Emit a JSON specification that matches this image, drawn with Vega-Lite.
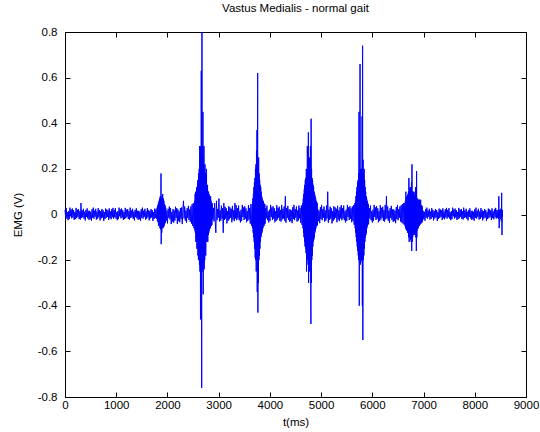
{
  "$schema": "https://vega.github.io/schema/vega-lite/v6.json",
  "width": 461,
  "height": 365,
  "autosize": {"type": "none"},
  "padding": {"left": 65, "top": 32, "right": 14, "bottom": 35},
  "background": "white",
  "title": {"text": "Vastus Medialis - normal gait", "font": "Liberation Sans", "fontSize": 11.5, "fontWeight": "normal", "color": "black", "offset": 12, "anchor": "middle"},
  "config": {
    "view": {"stroke": "black", "strokeWidth": 1},
    "axis": {"grid": false, "domainColor": "black", "tickColor": "black", "labelColor": "black", "titleColor": "black", "labelFont": "Liberation Sans", "titleFont": "Liberation Sans", "titleFontWeight": "normal", "labelFontSize": 11.5, "titleFontSize": 11.5, "tickSize": -5, "domainWidth": 1, "tickWidth": 1, "labelFlush": false}
  },
  "data": {"values": [
{"t":0,"v":0.02},{"t":12,"v":-0.012},{"t":24,"v":0.028},{"t":36,"v":-0.018},{"t":48,"v":0.01},{"t":60,"v":-0.025},{"t":72,"v":0.015},{"t":84,"v":-0.02},{"t":96,"v":0.03},{"t":108,"v":-0.008},
{"t":120,"v":0.022},{"t":132,"v":-0.017},{"t":144,"v":0.026},{"t":156,"v":-0.013},{"t":168,"v":0.019},{"t":180,"v":-0.024},{"t":192,"v":0.011},{"t":204,"v":-0.02},{"t":216,"v":0.029},{"t":228,"v":-0.016},
{"t":240,"v":0.021},{"t":252,"v":-0.01},{"t":264,"v":0.024},{"t":276,"v":-0.02},{"t":288,"v":0.014},{"t":300,"v":-0.022},{"t":312,"v":0.05},{"t":324,"v":-0.015},{"t":336,"v":0.018},{"t":348,"v":-0.012},
{"t":360,"v":0.025},{"t":372,"v":-0.019},{"t":384,"v":0.012},{"t":396,"v":-0.026},{"t":408,"v":0.02},{"t":420,"v":-0.011},{"t":432,"v":0.027},{"t":444,"v":-0.017},{"t":456,"v":0.016},{"t":468,"v":-0.023},
{"t":480,"v":0.016},{"t":492,"v":-0.021},{"t":504,"v":0.012},{"t":516,"v":-0.027},{"t":528,"v":0.023},{"t":540,"v":-0.014},{"t":552,"v":0.03},{"t":564,"v":-0.018},{"t":576,"v":0.017},{"t":588,"v":-0.01},
{"t":600,"v":0.025},{"t":612,"v":-0.022},{"t":624,"v":0.013},{"t":636,"v":-0.019},{"t":648,"v":0.028},{"t":660,"v":-0.012},{"t":672,"v":0.02},{"t":684,"v":-0.026},{"t":696,"v":0.015},{"t":708,"v":-0.017},
{"t":720,"v":0.024},{"t":732,"v":-0.013},{"t":744,"v":0.019},{"t":756,"v":-0.028},{"t":768,"v":0.011},{"t":780,"v":-0.02},{"t":792,"v":0.026},{"t":804,"v":-0.015},{"t":816,"v":0.022},{"t":828,"v":-0.01},
{"t":840,"v":0.018},{"t":852,"v":-0.024},{"t":864,"v":0.027},{"t":876,"v":-0.016},{"t":888,"v":0.013},{"t":900,"v":-0.021},{"t":912,"v":0.023},{"t":924,"v":-0.012},{"t":936,"v":0.029},{"t":948,"v":-0.018},
{"t":960,"v":0.02},{"t":972,"v":-0.012},{"t":984,"v":0.028},{"t":996,"v":-0.018},{"t":1008,"v":0.01},{"t":1020,"v":-0.025},{"t":1032,"v":0.015},{"t":1044,"v":-0.02},{"t":1056,"v":0.03},{"t":1068,"v":-0.008},
{"t":1080,"v":0.022},{"t":1092,"v":-0.017},{"t":1104,"v":0.026},{"t":1116,"v":-0.013},{"t":1128,"v":0.019},{"t":1140,"v":-0.024},{"t":1152,"v":0.011},{"t":1164,"v":-0.02},{"t":1176,"v":0.029},{"t":1188,"v":-0.016},
{"t":1200,"v":0.021},{"t":1212,"v":-0.01},{"t":1224,"v":0.024},{"t":1236,"v":-0.02},{"t":1248,"v":0.014},{"t":1260,"v":-0.022},{"t":1272,"v":0.03},{"t":1284,"v":-0.015},{"t":1296,"v":0.018},{"t":1308,"v":-0.012},
{"t":1320,"v":0.025},{"t":1332,"v":-0.019},{"t":1344,"v":0.012},{"t":1356,"v":-0.026},{"t":1368,"v":0.02},{"t":1380,"v":-0.011},{"t":1392,"v":0.027},{"t":1404,"v":-0.017},{"t":1416,"v":0.016},{"t":1428,"v":-0.023},
{"t":1440,"v":0.016},{"t":1452,"v":-0.021},{"t":1464,"v":0.012},{"t":1476,"v":-0.027},{"t":1488,"v":0.023},{"t":1500,"v":-0.014},{"t":1512,"v":0.03},{"t":1524,"v":-0.018},{"t":1536,"v":0.017},{"t":1548,"v":-0.01},
{"t":1560,"v":0.025},{"t":1572,"v":-0.022},{"t":1584,"v":0.013},{"t":1596,"v":-0.019},{"t":1608,"v":0.028},{"t":1620,"v":-0.012},{"t":1632,"v":0.02},{"t":1644,"v":-0.026},{"t":1656,"v":0.015},{"t":1668,"v":-0.017},
{"t":1680,"v":0.024},{"t":1692,"v":-0.013},{"t":1704,"v":0.019},{"t":1716,"v":-0.028},{"t":1728,"v":0.011},{"t":1740,"v":-0.02},{"t":1752,"v":0.026},{"t":1764,"v":-0.015},{"t":1776,"v":0.022},{"t":1790,"v":-0.02},{"t":1798,"v":0.03},
{"t":1805,"v":-0.03},{"t":1811,"v":0.04},{"t":1817,"v":-0.035},{"t":1823,"v":0.05},{"t":1829,"v":-0.05},{"t":1835,"v":0.06},{"t":1841,"v":-0.045},{"t":1847,"v":0.07},{"t":1853,"v":-0.06},{"t":1859,"v":0.08},
{"t":1865,"v":-0.065},{"t":1871,"v":0.06},{"t":1875,"v":0.18},{"t":1878,"v":-0.13},{"t":1883,"v":0.07},{"t":1889,"v":-0.08},{"t":1895,"v":0.08},{"t":1901,"v":-0.06},{"t":1907,"v":0.09},{"t":1913,"v":-0.06},
{"t":1919,"v":0.07},{"t":1925,"v":-0.055},{"t":1931,"v":0.06},{"t":1937,"v":-0.05},{"t":1943,"v":0.045},{"t":1949,"v":-0.04},{"t":1955,"v":0.04},{"t":1961,"v":-0.035},{"t":1967,"v":0.03},
{"t":1977,"v":-0.028},{"t":1989,"v":0.017},{"t":2001,"v":-0.039},{"t":2013,"v":0.025},{"t":2025,"v":-0.014},{"t":2037,"v":0.035},{"t":2049,"v":-0.021},{"t":2061,"v":0.028},{"t":2073,"v":-0.042},{"t":2085,"v":0.011},
{"t":2097,"v":-0.031},{"t":2109,"v":0.024},{"t":2121,"v":-0.036},{"t":2133,"v":0.018},{"t":2145,"v":-0.027},{"t":2157,"v":0.034},{"t":2169,"v":-0.015},{"t":2181,"v":0.028},{"t":2193,"v":-0.041},{"t":2205,"v":0.022},
{"t":2217,"v":-0.029},{"t":2229,"v":0.014},{"t":2241,"v":-0.034},{"t":2253,"v":0.028},{"t":2265,"v":-0.02},{"t":2277,"v":0.031},{"t":2289,"v":-0.042},{"t":2301,"v":0.021},{"t":2313,"v":0.06},{"t":2325,"v":-0.017},
{"t":2337,"v":0.035},{"t":2349,"v":-0.027},{"t":2361,"v":0.017},{"t":2373,"v":-0.036},{"t":2385,"v":0.028},{"t":2397,"v":-0.015},{"t":2409,"v":0.038},{"t":2421,"v":-0.024},{"t":2433,"v":0.022},{"t":2445,"v":-0.032},
{"t":2457,"v":0.035},{"t":2469,"v":-0.04},{"t":2481,"v":0.045},{"t":2493,"v":-0.05},{"t":2505,"v":0.05},{"t":2517,"v":-0.06},
{"t":2530,"v":0.06},{"t":2535,"v":-0.07},{"t":2540,"v":0.09},{"t":2545,"v":-0.08},{"t":2550,"v":0.1},{"t":2555,"v":-0.12},{"t":2560,"v":0.08},{"t":2565,"v":-0.1},{"t":2570,"v":0.12},{"t":2575,"v":-0.15},
{"t":2580,"v":0.1},{"t":2585,"v":-0.12},{"t":2590,"v":0.15},{"t":2595,"v":-0.18},{"t":2600,"v":0.12},{"t":2605,"v":-0.2},{"t":2610,"v":0.18},{"t":2615,"v":-0.15},{"t":2620,"v":0.2},{"t":2625,"v":-0.22},
{"t":2630,"v":0.3},{"t":2635,"v":-0.25},{"t":2640,"v":0.25},{"t":2645,"v":-0.46},{"t":2650,"v":0.3},{"t":2655,"v":-0.2},{"t":2660,"v":0.63},{"t":2665,"v":-0.3},{"t":2669,"v":-0.76},{"t":2674,"v":0.8},
{"t":2678,"v":-0.2},{"t":2683,"v":0.3},{"t":2688,"v":-0.25},{"t":2693,"v":0.45},{"t":2698,"v":-0.35},{"t":2703,"v":0.25},{"t":2708,"v":-0.21},{"t":2713,"v":0.3},{"t":2718,"v":-0.24},{"t":2723,"v":0.2},
{"t":2728,"v":-0.2},{"t":2733,"v":0.22},{"t":2738,"v":-0.15},{"t":2743,"v":0.18},{"t":2748,"v":-0.18},{"t":2753,"v":0.15},{"t":2758,"v":-0.12},{"t":2763,"v":0.2},{"t":2768,"v":-0.12},{"t":2773,"v":0.12},
{"t":2778,"v":-0.1},{"t":2783,"v":0.13},{"t":2788,"v":-0.12},{"t":2793,"v":0.1},{"t":2798,"v":-0.09},{"t":2803,"v":0.1},{"t":2808,"v":-0.08},{"t":2813,"v":0.09},{"t":2818,"v":-0.07},{"t":2823,"v":0.08},
{"t":2828,"v":-0.06},{"t":2833,"v":0.07},{"t":2838,"v":-0.06},{"t":2843,"v":0.08},{"t":2848,"v":-0.05},{"t":2853,"v":0.06},{"t":2858,"v":-0.05},{"t":2863,"v":0.05},{"t":2868,"v":-0.045},{"t":2873,"v":0.05},
{"t":2885,"v":-0.022},{"t":2897,"v":0.029},{"t":2909,"v":-0.03},{"t":2921,"v":0.05},{"t":2933,"v":-0.032},{"t":2945,"v":-0.08},{"t":2957,"v":0.06},{"t":2969,"v":-0.025},{"t":2981,"v":0.024},{"t":2993,"v":-0.014},
{"t":3005,"v":0.07},{"t":3017,"v":-0.031},{"t":3029,"v":0.018},{"t":3041,"v":-0.027},{"t":3053,"v":0.039},{"t":3065,"v":-0.017},{"t":3077,"v":0.028},{"t":3089,"v":-0.08},{"t":3101,"v":0.05},{"t":3113,"v":-0.024},
{"t":3125,"v":0.034},{"t":3137,"v":-0.018},{"t":3149,"v":0.027},{"t":3161,"v":-0.039},{"t":3173,"v":0.015},{"t":3185,"v":-0.028},{"t":3197,"v":0.036},{"t":3209,"v":-0.021},{"t":3221,"v":0.031},{"t":3233,"v":-0.014},
{"t":3245,"v":0.025},{"t":3257,"v":-0.034},{"t":3269,"v":0.038},{"t":3281,"v":-0.022},{"t":3293,"v":0.018},{"t":3305,"v":-0.029},{"t":3317,"v":0.05},{"t":3329,"v":-0.017},{"t":3341,"v":0.041},{"t":3353,"v":-0.025},
{"t":3365,"v":0.028},{"t":3377,"v":-0.017},{"t":3389,"v":0.039},{"t":3401,"v":-0.025},{"t":3413,"v":0.014},{"t":3425,"v":-0.035},{"t":3437,"v":0.021},{"t":3449,"v":-0.028},{"t":3461,"v":0.042},{"t":3473,"v":-0.011},
{"t":3485,"v":0.031},{"t":3497,"v":-0.024},{"t":3509,"v":0.036},{"t":3521,"v":-0.018},{"t":3533,"v":0.027},{"t":3545,"v":-0.034},{"t":3557,"v":0.015},{"t":3569,"v":-0.028},{"t":3581,"v":0.041},{"t":3593,"v":-0.022},
{"t":3605,"v":0.029},{"t":3617,"v":-0.04},{"t":3629,"v":0.045},{"t":3641,"v":-0.05},
{"t":3658,"v":0.05},{"t":3663,"v":-0.06},{"t":3668,"v":0.07},{"t":3673,"v":-0.08},{"t":3678,"v":0.09},{"t":3683,"v":-0.1},{"t":3688,"v":0.12},{"t":3693,"v":-0.12},{"t":3698,"v":0.14},{"t":3703,"v":-0.15},
{"t":3708,"v":0.16},{"t":3713,"v":-0.19},{"t":3718,"v":0.2},{"t":3723,"v":-0.2},{"t":3728,"v":0.22},{"t":3733,"v":-0.25},{"t":3738,"v":0.28},{"t":3743,"v":-0.2},{"t":3748,"v":0.37},{"t":3753,"v":-0.34},
{"t":3758,"v":0.26},{"t":3762,"v":0.62},{"t":3766,"v":-0.43},{"t":3771,"v":0.2},{"t":3776,"v":-0.3},{"t":3781,"v":0.25},{"t":3786,"v":-0.2},{"t":3791,"v":0.18},{"t":3796,"v":-0.18},{"t":3801,"v":0.15},
{"t":3806,"v":-0.15},{"t":3811,"v":0.13},{"t":3816,"v":-0.12},{"t":3821,"v":0.12},{"t":3826,"v":-0.1},{"t":3831,"v":0.1},{"t":3836,"v":-0.09},{"t":3841,"v":0.08},{"t":3846,"v":-0.08},{"t":3851,"v":0.07},
{"t":3856,"v":-0.07},{"t":3861,"v":0.06},{"t":3866,"v":-0.06},{"t":3871,"v":0.06},{"t":3876,"v":-0.05},{"t":3881,"v":0.05},{"t":3886,"v":-0.05},{"t":3891,"v":0.045},{"t":3896,"v":-0.04},{"t":3901,"v":0.045},{"t":3906,"v":-0.04},
{"t":3918,"v":0.028},{"t":3930,"v":-0.017},{"t":3942,"v":0.039},{"t":3954,"v":-0.025},{"t":3966,"v":0.014},{"t":3978,"v":-0.035},{"t":3990,"v":0.021},{"t":4002,"v":-0.028},{"t":4014,"v":0.042},{"t":4026,"v":-0.011},
{"t":4038,"v":0.031},{"t":4050,"v":-0.024},{"t":4062,"v":0.036},{"t":4074,"v":-0.018},{"t":4086,"v":0.027},{"t":4098,"v":-0.034},{"t":4110,"v":0.015},{"t":4122,"v":-0.028},{"t":4134,"v":0.041},{"t":4146,"v":-0.022},
{"t":4158,"v":0.029},{"t":4170,"v":-0.014},{"t":4182,"v":0.034},{"t":4194,"v":-0.028},{"t":4206,"v":0.02},{"t":4218,"v":-0.031},{"t":4230,"v":0.042},{"t":4242,"v":-0.021},{"t":4254,"v":0.025},{"t":4266,"v":-0.017},
{"t":4278,"v":0.035},{"t":4290,"v":-0.027},{"t":4302,"v":0.08},{"t":4314,"v":-0.036},{"t":4326,"v":0.028},{"t":4338,"v":-0.015},{"t":4350,"v":0.038},{"t":4362,"v":-0.024},{"t":4374,"v":0.022},{"t":4386,"v":-0.032},
{"t":4398,"v":0.022},{"t":4410,"v":-0.029},{"t":4422,"v":0.017},{"t":4434,"v":-0.038},{"t":4446,"v":0.032},{"t":4458,"v":-0.02},{"t":4470,"v":0.042},{"t":4482,"v":-0.025},{"t":4494,"v":0.024},{"t":4506,"v":-0.014},
{"t":4518,"v":0.035},{"t":4530,"v":-0.031},{"t":4542,"v":0.018},{"t":4554,"v":-0.027},{"t":4566,"v":0.039},{"t":4578,"v":-0.017},{"t":4590,"v":0.028},{"t":4602,"v":-0.036},{"t":4614,"v":0.04},{"t":4626,"v":-0.045},
{"t":4641,"v":0.05},{"t":4646,"v":-0.06},{"t":4651,"v":0.07},{"t":4656,"v":-0.08},{"t":4661,"v":0.09},{"t":4666,"v":-0.1},{"t":4671,"v":0.11},{"t":4676,"v":-0.12},{"t":4681,"v":0.13},{"t":4686,"v":-0.14},
{"t":4691,"v":0.15},{"t":4696,"v":-0.15},{"t":4701,"v":0.16},{"t":4706,"v":-0.17},{"t":4711,"v":0.2},{"t":4716,"v":-0.25},{"t":4721,"v":0.18},{"t":4726,"v":-0.2},{"t":4731,"v":0.3},{"t":4736,"v":-0.18},
{"t":4741,"v":0.2},{"t":4746,"v":-0.22},{"t":4751,"v":0.36},{"t":4756,"v":-0.3},{"t":4761,"v":0.22},{"t":4766,"v":-0.2},{"t":4771,"v":0.25},{"t":4776,"v":-0.25},{"t":4781,"v":0.2},{"t":4786,"v":-0.18},
{"t":4791,"v":0.3},{"t":4796,"v":-0.2},{"t":4801,"v":-0.48},{"t":4805,"v":0.42},{"t":4809,"v":-0.3},{"t":4814,"v":0.2},{"t":4819,"v":-0.2},{"t":4824,"v":0.16},{"t":4829,"v":-0.18},{"t":4834,"v":0.15},
{"t":4839,"v":-0.14},{"t":4844,"v":0.13},{"t":4849,"v":-0.12},{"t":4854,"v":0.12},{"t":4859,"v":-0.11},{"t":4864,"v":0.1},{"t":4869,"v":-0.1},{"t":4874,"v":0.09},{"t":4879,"v":-0.08},{"t":4884,"v":0.08},
{"t":4889,"v":-0.07},{"t":4894,"v":0.07},{"t":4899,"v":-0.06},{"t":4904,"v":0.06},{"t":4909,"v":-0.05},{"t":4914,"v":0.055},{"t":4919,"v":-0.05},{"t":4924,"v":0.05},{"t":4929,"v":-0.045},
{"t":4937,"v":0.022},{"t":4949,"v":-0.029},{"t":4961,"v":0.017},{"t":4973,"v":-0.038},{"t":4985,"v":0.032},{"t":4997,"v":-0.02},{"t":5009,"v":0.042},{"t":5021,"v":-0.025},{"t":5033,"v":0.024},{"t":5045,"v":-0.014},
{"t":5057,"v":0.035},{"t":5069,"v":-0.031},{"t":5081,"v":0.018},{"t":5093,"v":-0.027},{"t":5105,"v":0.039},{"t":5117,"v":-0.017},{"t":5129,"v":0.1},{"t":5141,"v":-0.036},{"t":5153,"v":0.021},{"t":5165,"v":-0.024},
{"t":5177,"v":0.034},{"t":5189,"v":-0.018},{"t":5201,"v":0.027},{"t":5213,"v":-0.039},{"t":5225,"v":0.015},{"t":5237,"v":-0.028},{"t":5249,"v":0.036},{"t":5261,"v":-0.021},{"t":5273,"v":0.031},{"t":5285,"v":-0.014},
{"t":5297,"v":0.025},{"t":5309,"v":-0.034},{"t":5321,"v":0.038},{"t":5333,"v":-0.022},{"t":5345,"v":0.018},{"t":5357,"v":-0.029},{"t":5369,"v":0.032},{"t":5381,"v":-0.017},{"t":5393,"v":0.041},{"t":5405,"v":-0.025},
{"t":5417,"v":0.028},{"t":5429,"v":-0.017},{"t":5441,"v":0.039},{"t":5453,"v":-0.025},{"t":5465,"v":0.014},{"t":5477,"v":-0.035},{"t":5489,"v":0.021},{"t":5501,"v":-0.028},{"t":5513,"v":0.042},{"t":5525,"v":-0.011},
{"t":5537,"v":0.031},{"t":5549,"v":-0.024},{"t":5561,"v":0.036},{"t":5573,"v":-0.018},{"t":5585,"v":0.027},{"t":5597,"v":-0.034},{"t":5609,"v":0.035},{"t":5621,"v":-0.028},{"t":5633,"v":0.041},{"t":5645,"v":-0.045},
{"t":5660,"v":0.05},{"t":5665,"v":-0.06},{"t":5670,"v":0.06},{"t":5675,"v":-0.08},{"t":5680,"v":0.08},{"t":5685,"v":-0.1},{"t":5690,"v":0.1},{"t":5695,"v":-0.12},{"t":5700,"v":0.12},{"t":5705,"v":-0.14},
{"t":5710,"v":0.14},{"t":5715,"v":-0.16},{"t":5720,"v":0.15},{"t":5725,"v":-0.18},{"t":5730,"v":0.18},{"t":5735,"v":-0.2},{"t":5740,"v":0.45},{"t":5745,"v":-0.4},{"t":5750,"v":0.2},{"t":5755,"v":-0.2},
{"t":5760,"v":0.66},{"t":5765,"v":-0.22},{"t":5770,"v":0.2},{"t":5775,"v":-0.21},{"t":5780,"v":0.18},{"t":5785,"v":-0.2},{"t":5790,"v":0.2},{"t":5795,"v":-0.2},{"t":5800,"v":0.43},{"t":5805,"v":-0.4},
{"t":5810,"v":0.74},{"t":5815,"v":-0.55},{"t":5820,"v":0.24},{"t":5825,"v":-0.2},{"t":5830,"v":0.18},{"t":5835,"v":-0.18},{"t":5840,"v":0.2},{"t":5845,"v":-0.15},{"t":5850,"v":0.15},{"t":5855,"v":-0.12},
{"t":5860,"v":0.12},{"t":5865,"v":-0.1},{"t":5870,"v":0.1},{"t":5875,"v":-0.09},{"t":5880,"v":0.08},{"t":5885,"v":-0.08},{"t":5890,"v":0.07},{"t":5895,"v":-0.06},{"t":5900,"v":0.06},{"t":5905,"v":-0.05},
{"t":5910,"v":0.05},{"t":5915,"v":-0.045},{"t":5920,"v":0.045},
{"t":5927,"v":-0.04},{"t":5939,"v":0.028},{"t":5951,"v":-0.017},{"t":5963,"v":0.039},{"t":5975,"v":-0.025},{"t":5987,"v":0.014},{"t":5999,"v":-0.035},{"t":6011,"v":0.021},{"t":6023,"v":-0.028},{"t":6035,"v":0.042},
{"t":6047,"v":-0.011},{"t":6059,"v":0.031},{"t":6071,"v":-0.024},{"t":6083,"v":0.036},{"t":6095,"v":-0.018},{"t":6107,"v":0.027},{"t":6119,"v":-0.034},{"t":6131,"v":0.015},{"t":6143,"v":-0.028},{"t":6155,"v":0.041},
{"t":6167,"v":-0.022},{"t":6179,"v":0.029},{"t":6191,"v":-0.014},{"t":6203,"v":0.034},{"t":6215,"v":-0.028},{"t":6227,"v":0.02},{"t":6239,"v":-0.031},{"t":6251,"v":0.042},{"t":6263,"v":-0.021},{"t":6275,"v":0.08},
{"t":6287,"v":-0.017},{"t":6299,"v":0.035},{"t":6311,"v":-0.027},{"t":6323,"v":0.017},{"t":6335,"v":-0.036},{"t":6347,"v":0.028},{"t":6359,"v":-0.015},{"t":6371,"v":0.038},{"t":6383,"v":-0.024},{"t":6395,"v":0.022},
{"t":6407,"v":-0.032},{"t":6419,"v":0.022},{"t":6431,"v":-0.029},{"t":6443,"v":0.017},{"t":6455,"v":-0.038},{"t":6467,"v":0.032},{"t":6479,"v":-0.02},{"t":6491,"v":0.042},{"t":6503,"v":-0.025},{"t":6515,"v":0.024},
{"t":6527,"v":-0.014},{"t":6539,"v":0.035},{"t":6551,"v":-0.031},{"t":6563,"v":0.04},{"t":6575,"v":-0.035},{"t":6587,"v":0.045},{"t":6599,"v":-0.04},{"t":6611,"v":0.05},{"t":6623,"v":-0.045},
{"t":6634,"v":0.05},{"t":6639,"v":-0.05},{"t":6644,"v":0.06},{"t":6649,"v":-0.06},{"t":6654,"v":0.1},{"t":6659,"v":-0.065},{"t":6664,"v":0.07},{"t":6669,"v":-0.07},{"t":6674,"v":0.08},{"t":6679,"v":-0.07},
{"t":6684,"v":0.08},{"t":6689,"v":-0.08},{"t":6694,"v":0.09},{"t":6699,"v":-0.08},{"t":6704,"v":0.1},{"t":6709,"v":-0.1},{"t":6714,"v":0.16},{"t":6719,"v":-0.12},{"t":6724,"v":0.1},{"t":6729,"v":-0.1},
{"t":6734,"v":0.12},{"t":6739,"v":-0.1},{"t":6744,"v":0.11},{"t":6749,"v":-0.11},{"t":6754,"v":0.12},{"t":6759,"v":-0.12},{"t":6764,"v":0.14},{"t":6769,"v":-0.16},{"t":6774,"v":0.22},{"t":6779,"v":-0.12},
{"t":6784,"v":0.1},{"t":6789,"v":-0.1},{"t":6794,"v":0.1},{"t":6799,"v":-0.08},{"t":6804,"v":0.09},{"t":6809,"v":-0.09},{"t":6814,"v":0.1},{"t":6819,"v":-0.08},{"t":6824,"v":0.08},{"t":6829,"v":-0.09},
{"t":6834,"v":0.09},{"t":6839,"v":-0.08},{"t":6844,"v":0.12},{"t":6849,"v":-0.1},{"t":6854,"v":0.1},{"t":6859,"v":-0.16},{"t":6864,"v":0.19},{"t":6869,"v":-0.1},{"t":6874,"v":0.07},{"t":6879,"v":-0.07},
{"t":6884,"v":0.07},{"t":6889,"v":-0.06},{"t":6894,"v":0.06},{"t":6899,"v":-0.06},{"t":6904,"v":0.065},{"t":6909,"v":-0.05},{"t":6914,"v":0.05},{"t":6919,"v":-0.05},{"t":6924,"v":0.065},{"t":6929,"v":-0.045},
{"t":6934,"v":0.05},{"t":6939,"v":-0.04},{"t":6944,"v":0.065},{"t":6949,"v":-0.04},{"t":6954,"v":0.04},{"t":6959,"v":-0.035},{"t":6964,"v":0.04},{"t":6969,"v":-0.035},{"t":6974,"v":0.035},
{"t":6980,"v":-0.03},
{"t":6992,"v":0.016},{"t":7004,"v":-0.021},{"t":7016,"v":0.012},{"t":7028,"v":-0.027},{"t":7040,"v":0.023},{"t":7052,"v":-0.014},{"t":7064,"v":0.03},{"t":7076,"v":-0.018},{"t":7088,"v":0.017},{"t":7100,"v":-0.01},
{"t":7112,"v":0.025},{"t":7124,"v":-0.022},{"t":7136,"v":0.013},{"t":7148,"v":-0.019},{"t":7160,"v":0.028},{"t":7172,"v":-0.012},{"t":7184,"v":0.02},{"t":7196,"v":-0.026},{"t":7208,"v":0.015},{"t":7220,"v":-0.017},
{"t":7232,"v":0.024},{"t":7244,"v":-0.013},{"t":7256,"v":0.019},{"t":7268,"v":-0.028},{"t":7280,"v":0.011},{"t":7292,"v":-0.02},{"t":7304,"v":0.026},{"t":7316,"v":-0.015},{"t":7328,"v":0.022},{"t":7340,"v":-0.01},
{"t":7352,"v":0.018},{"t":7364,"v":-0.024},{"t":7376,"v":0.027},{"t":7388,"v":-0.016},{"t":7400,"v":0.013},{"t":7412,"v":-0.021},{"t":7424,"v":0.023},{"t":7436,"v":-0.012},{"t":7448,"v":0.029},{"t":7460,"v":-0.018},
{"t":7472,"v":0.02},{"t":7484,"v":-0.012},{"t":7496,"v":0.028},{"t":7508,"v":-0.018},{"t":7520,"v":0.01},{"t":7532,"v":-0.025},{"t":7544,"v":0.015},{"t":7556,"v":-0.02},{"t":7568,"v":0.03},{"t":7580,"v":-0.008},
{"t":7592,"v":0.022},{"t":7604,"v":-0.017},{"t":7616,"v":0.026},{"t":7628,"v":-0.013},{"t":7640,"v":0.019},{"t":7652,"v":-0.024},{"t":7664,"v":0.011},{"t":7676,"v":-0.02},{"t":7688,"v":0.029},{"t":7700,"v":-0.016},
{"t":7712,"v":0.021},{"t":7724,"v":-0.01},{"t":7736,"v":0.024},{"t":7748,"v":-0.02},{"t":7760,"v":0.014},{"t":7772,"v":-0.022},{"t":7784,"v":0.03},{"t":7796,"v":-0.015},{"t":7808,"v":0.018},{"t":7820,"v":-0.012},
{"t":7832,"v":0.025},{"t":7844,"v":-0.019},{"t":7856,"v":0.012},{"t":7868,"v":-0.026},{"t":7880,"v":0.02},{"t":7892,"v":-0.011},{"t":7904,"v":0.027},{"t":7916,"v":-0.017},{"t":7928,"v":0.016},{"t":7940,"v":-0.023},
{"t":7952,"v":0.016},{"t":7964,"v":-0.021},{"t":7976,"v":0.012},{"t":7988,"v":-0.027},{"t":8000,"v":0.023},{"t":8012,"v":-0.014},{"t":8024,"v":0.03},{"t":8036,"v":-0.018},{"t":8048,"v":0.017},{"t":8060,"v":-0.01},
{"t":8072,"v":0.025},{"t":8084,"v":-0.022},{"t":8096,"v":0.013},{"t":8108,"v":-0.019},{"t":8120,"v":0.028},{"t":8132,"v":-0.012},{"t":8144,"v":0.02},{"t":8156,"v":-0.026},{"t":8168,"v":0.015},{"t":8180,"v":-0.017},
{"t":8192,"v":0.024},{"t":8204,"v":-0.013},{"t":8216,"v":0.019},{"t":8228,"v":-0.028},{"t":8240,"v":0.011},{"t":8252,"v":-0.02},{"t":8264,"v":0.026},{"t":8276,"v":-0.015},{"t":8288,"v":0.022},{"t":8300,"v":-0.01},
{"t":8312,"v":0.018},{"t":8324,"v":-0.024},{"t":8336,"v":0.027},{"t":8348,"v":-0.016},{"t":8360,"v":0.013},{"t":8372,"v":-0.021},{"t":8384,"v":0.023},{"t":8396,"v":-0.012},{"t":8408,"v":0.029},{"t":8420,"v":-0.018},
{"t":8432,"v":0.02},{"t":8444,"v":-0.015},{"t":8456,"v":0.02},{"t":8464,"v":-0.02},{"t":8470,"v":0.08},{"t":8476,"v":-0.06},{"t":8484,"v":0.02},{"t":8494,"v":-0.02},{"t":8506,"v":0.025},{"t":8518,"v":-0.03},
{"t":8525,"v":0.095},{"t":8531,"v":-0.09},{"t":8537,"v":0.02},{"t":8543,"v":-0.01}
  ]},
  "layer": [
    {
      "mark": {"type": "line", "color": "#0000ff", "strokeWidth": 1},
      "encoding": {
        "x": {"field": "t", "type": "quantitative", "scale": {"domain": [0, 9000], "nice": false, "zero": false}, "axis": {"orient": "bottom", "title": "t(ms)", "values": [0,1000,2000,3000,4000,5000,6000,7000,8000,9000], "format": "d", "labelPadding": 7, "titlePadding": 6}},
        "y": {"field": "v", "type": "quantitative", "scale": {"domain": [-0.8, 0.8], "nice": false, "zero": false}, "axis": {"orient": "left", "title": "EMG (V)", "values": [-0.8,-0.6,-0.4,-0.2,0,0.2,0.4,0.6,0.8], "labelExpr": "datum.value == 0 ? '0' : replace(format(datum.value, '.1f'), '\u2212', '-')", "labelPadding": 13, "titlePadding": 14}}
      }
    },
    {
      "mark": {"type": "line", "opacity": 0},
      "encoding": {
        "x": {"field": "t", "type": "quantitative", "axis": {"orient": "top", "title": null, "labels": false, "values": [0,1000,2000,3000,4000,5000,6000,7000,8000,9000]}},
        "y": {"field": "v", "type": "quantitative", "axis": {"orient": "right", "title": null, "labels": false, "values": [-0.8,-0.6,-0.4,-0.2,0,0.2,0.4,0.6,0.8]}}
      }
    }
  ],
  "resolve": {"axis": {"x": "independent", "y": "independent"}}
}
